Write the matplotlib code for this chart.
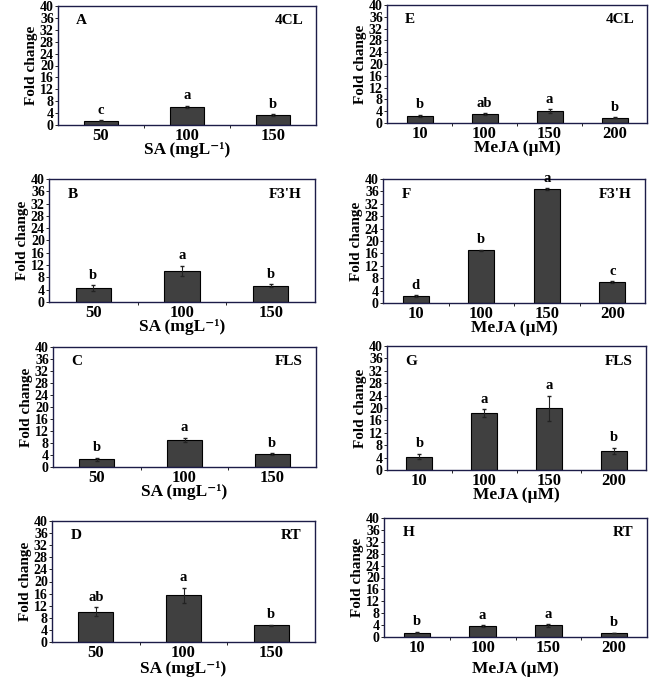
import numpy as np
import matplotlib
matplotlib.use('Agg')
import matplotlib.pyplot as plt

plt.rcParams['font.family'] = ['Liberation Serif', 'DejaVu Serif']
plt.rcParams['font.weight'] = 'bold'

" DATA "
sa_doses = ['50', '100', '150']
meja_doses = ['10', '100', '150', '200']

# SA panels (A-D)
sa_4cl = [1.5, 6.1, 3.3]
sa_4cl_err = [0.1, 0.4, 0.3]
sa_4cl_let = ['c', 'a', 'b']

sa_f3h = [4.5, 10.1, 5.3]
sa_f3h_err = [0.9, 1.6, 0.4]
sa_f3h_let = ['b', 'a', 'b']

sa_fls = [2.6, 9.0, 4.3]
sa_fls_err = [0.5, 0.8, 0.3]
sa_fls_let = ['b', 'a', 'b']

sa_rt = [10.0, 15.4, 5.5]
sa_rt_err = [1.5, 2.6, 0.2]
sa_rt_let = ['ab', 'a', 'b']

# MeJA panels (E-H)
meja_4cl = [2.4, 3.0, 4.0, 1.8]
meja_4cl_err = [0.3, 0.3, 0.6, 0.2]
meja_4cl_let = ['b', 'ab', 'a', 'b']

meja_f3h = [2.2, 17.0, 36.8, 6.7]
meja_f3h_err = [0.3, 0.2, 0.2, 0.3]
meja_f3h_let = ['d', 'b', 'a', 'c']

meja_fls = [4.3, 18.3, 19.9, 6.2]
meja_fls_err = [0.8, 1.3, 4.0, 1.0]
meja_fls_let = ['b', 'a', 'a', 'b']

meja_rt = [1.5, 3.7, 3.9, 1.3]
meja_rt_err = [0.3, 0.2, 0.4, 0.1]
meja_rt_let = ['b', 'a', 'a', 'b']

W, H = 654, 678
fig = plt.figure(figsize=(W / 100, H / 100), dpi=100)

spine_col = '#1c1c48'
bar_col = '#404040'


def panel(px, doses, vals, errs, lets, tag, gene, xlab, lpad=-1):
    x0, y0, x1, y1 = px  # pixel box (left, top, right, bottom)
    ax = fig.add_axes([x0 / W, 1 - y1 / H, (x1 - x0) / W, (y1 - y0) / H])
    x = np.arange(len(doses))
    ax.bar(x, vals, width=0.4, color=bar_col, edgecolor='black', linewidth=0.8, zorder=2)
    ax.errorbar(x, vals, yerr=errs, fmt='none', ecolor='#222222', elinewidth=0.8, capsize=1.5, zorder=3)
    for xi, v, e, l in zip(x, vals, errs, lets):
        ax.text(xi, v + e + 1.2, l, ha='center', va='bottom', fontsize=10.5, fontweight='bold')
    ax.set_xlim(-0.5, len(doses) - 0.5)
    ax.set_ylim(0, 40)
    ax.set_yticks(np.arange(0, 41, 4))
    ax.set_xticks(x)
    ax.set_xticklabels(doses, fontsize=12, fontweight='bold')
    ax.set_xticks(np.arange(0.5, len(doses) - 0.5, 1), minor=True)
    ax.tick_params(axis='y', labelsize=10, length=2, pad=1, width=0.6)
    ax.tick_params(axis='x', which='major', length=0, pad=2)
    ax.tick_params(axis='x', which='minor', length=2, width=0.6)
    for lab in ax.get_yticklabels():
        lab.set_fontweight('bold')
    for s in ax.spines.values():
        s.set_color(spine_col)
        s.set_linewidth(1.0)
    ax.set_ylabel('Fold change', fontsize=11, fontweight='bold', labelpad=1)
    ax.set_xlabel(xlab, fontsize=12.5, fontweight='bold', labelpad=lpad)
    ax.text(0.07, 0.93, tag, transform=ax.transAxes, ha='left', va='top', fontsize=11, fontweight='bold')
    ax.text(0.95, 0.93, gene, transform=ax.transAxes, ha='right', va='top', fontsize=11, fontweight='bold')
    return ax


sa_lab = 'SA (mgL\u207b\u00b9)'
meja_lab = 'MeJA (\u00b5M)'

panel((58, 6, 316, 125), sa_doses, sa_4cl, sa_4cl_err, sa_4cl_let, 'A', '4CL', sa_lab)
panel((49, 179, 315, 302), sa_doses, sa_f3h, sa_f3h_err, sa_f3h_let, 'B', "F3'H", sa_lab)
panel((53, 347, 316, 467), sa_doses, sa_fls, sa_fls_err, sa_fls_let, 'C', 'FLS', sa_lab)
panel((52, 521, 315, 642), sa_doses, sa_rt, sa_rt_err, sa_rt_let, 'D', 'RT', sa_lab, lpad=0)

panel((387, 5, 647, 123), meja_doses, meja_4cl, meja_4cl_err, meja_4cl_let, 'E', '4CL', meja_lab)
panel((383, 179, 645, 303), meja_doses, meja_f3h, meja_f3h_err, meja_f3h_let, 'F', "F3'H", meja_lab)
panel((387, 346, 646, 470), meja_doses, meja_fls, meja_fls_err, meja_fls_let, 'G', 'FLS', meja_lab)
panel((384, 518, 647, 637), meja_doses, meja_rt, meja_rt_err, meja_rt_let, 'H', 'RT', meja_lab, lpad=4)

fig.savefig('out.png', dpi=100)
